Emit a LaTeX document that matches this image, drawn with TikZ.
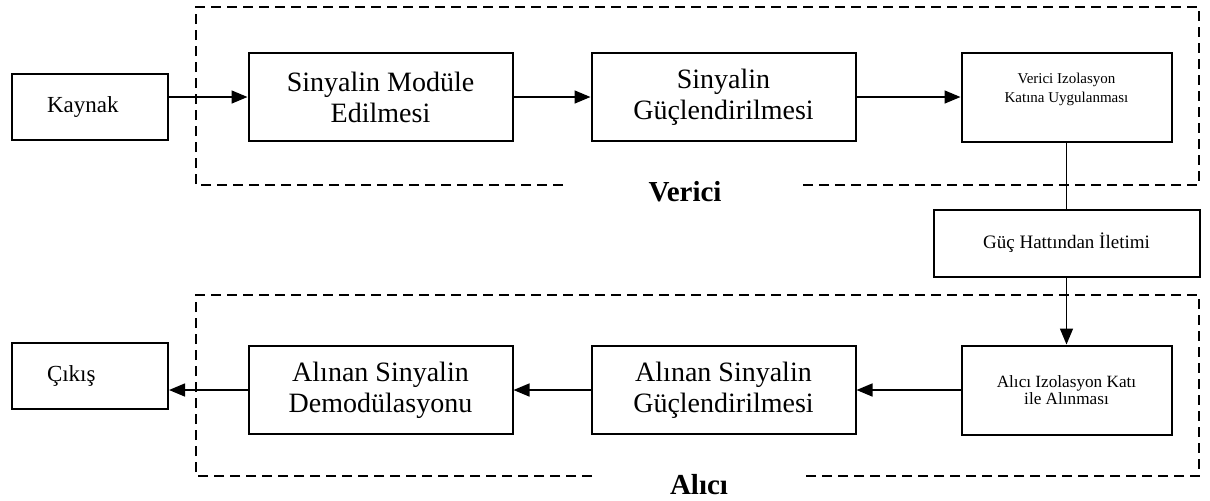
\documentclass[tikz,border=0pt]{standalone}
\usepackage{fontspec}
\setmainfont{Liberation Serif}
\usetikzlibrary{positioning, arrows.meta}
\tikzset{
  plcbox/.style   = {draw, line width=1pt, align=center, inner sep=2pt,
                     fill=white},
  plcwide/.style  = {plcbox, minimum width=132pt, minimum height=44pt,
                     font=\fontsize{14}{15.5}\selectfont},
  plcend/.style   = {plcbox, minimum height=33pt, text width=43pt,
                     inner xsep=17.5pt, align=left,
                     font=\fontsize{11.5}{13}\selectfont},
  plciso/.style   = {plcbox, minimum width=105pt, minimum height=44.5pt},
  plcarrow/.style = {line width=0.75pt, -{Triangle[length=8pt,width=6.5pt]}},
  plcline/.style  = {line width=0.75pt},
  plczone/.style  = {line width=1.2pt, dash pattern=on 5pt off 3pt},
  plclbl/.style   = {font=\fontsize{14.5}{16}\selectfont\bfseries, inner sep=1pt}
}

\begin{document}
\begin{tikzpicture}[x=0.5pt, y=-0.5pt]
  \useasboundingbox (0,0) rectangle (1210,500);

  \node[plcend]                     (kaynak) at (90,107) {Kaynak};
  \node[plcwide]                    (mod) at (380.5,97) {Sinyalin Modüle\\Edilmesi};
  \node[plcwide, right=38.5pt of mod] (guc1) {Sinyalin\\Güçlendirilmesi};
  \node[plciso, right=52pt of guc1, font=\fontsize{7.5}{9.3}\selectfont]
                                    (vizo) {Verici Izolasyon\\Katına Uygulanması\\[0pt]\mbox{}};
  \node[plcbox, minimum width=133pt, minimum height=33.5pt, below=33pt of vizo,
        font=\fontsize{9.5}{11}\selectfont]
                                    (hat) {Güç Hattından İletimi};
  \node[plciso, below=33.5pt of hat, font=\fontsize{8.6}{8.5}\selectfont]
                                    (aizo) {Alıcı Izolasyon Katı\\ile Alınması};
  \node[plcwide, left=52pt of aizo]   (guc2) {Alınan Sinyalin\\Güçlendirilmesi};
  \node[plcwide, left=38.5pt of guc2] (dem) {Alınan Sinyalin\\Demodülasyonu};
  \node[plcend]                     (cikis) at (90,376) {Çıkış};

  \draw[plcarrow] (kaynak.east |- mod.west) -- (mod.west);
  \draw[plcarrow] (mod) -- (guc1);
  \draw[plcarrow] (guc1) -- (vizo);
  \draw[plcline]  (vizo) -- (hat);
  \draw[plcarrow] (hat) -- (aizo);
  \draw[plcarrow] (aizo) -- (guc2);
  \draw[plcarrow] (guc2) -- (dem);
  \draw[plcarrow] (dem.west) -- (cikis.east |- dem.west);

  \draw[plczone] (563,185) -| (196,7) -| (1199,185) -- (803,185);
  \node[plclbl] (verici) at (685,192) {Verici};
  \draw[plczone] (592,476) -| (196,295) -| (1199,476) -- (805,476);
  \node[plclbl] (alici) at (699,485) {Alıcı};
\end{tikzpicture}
\end{document}
